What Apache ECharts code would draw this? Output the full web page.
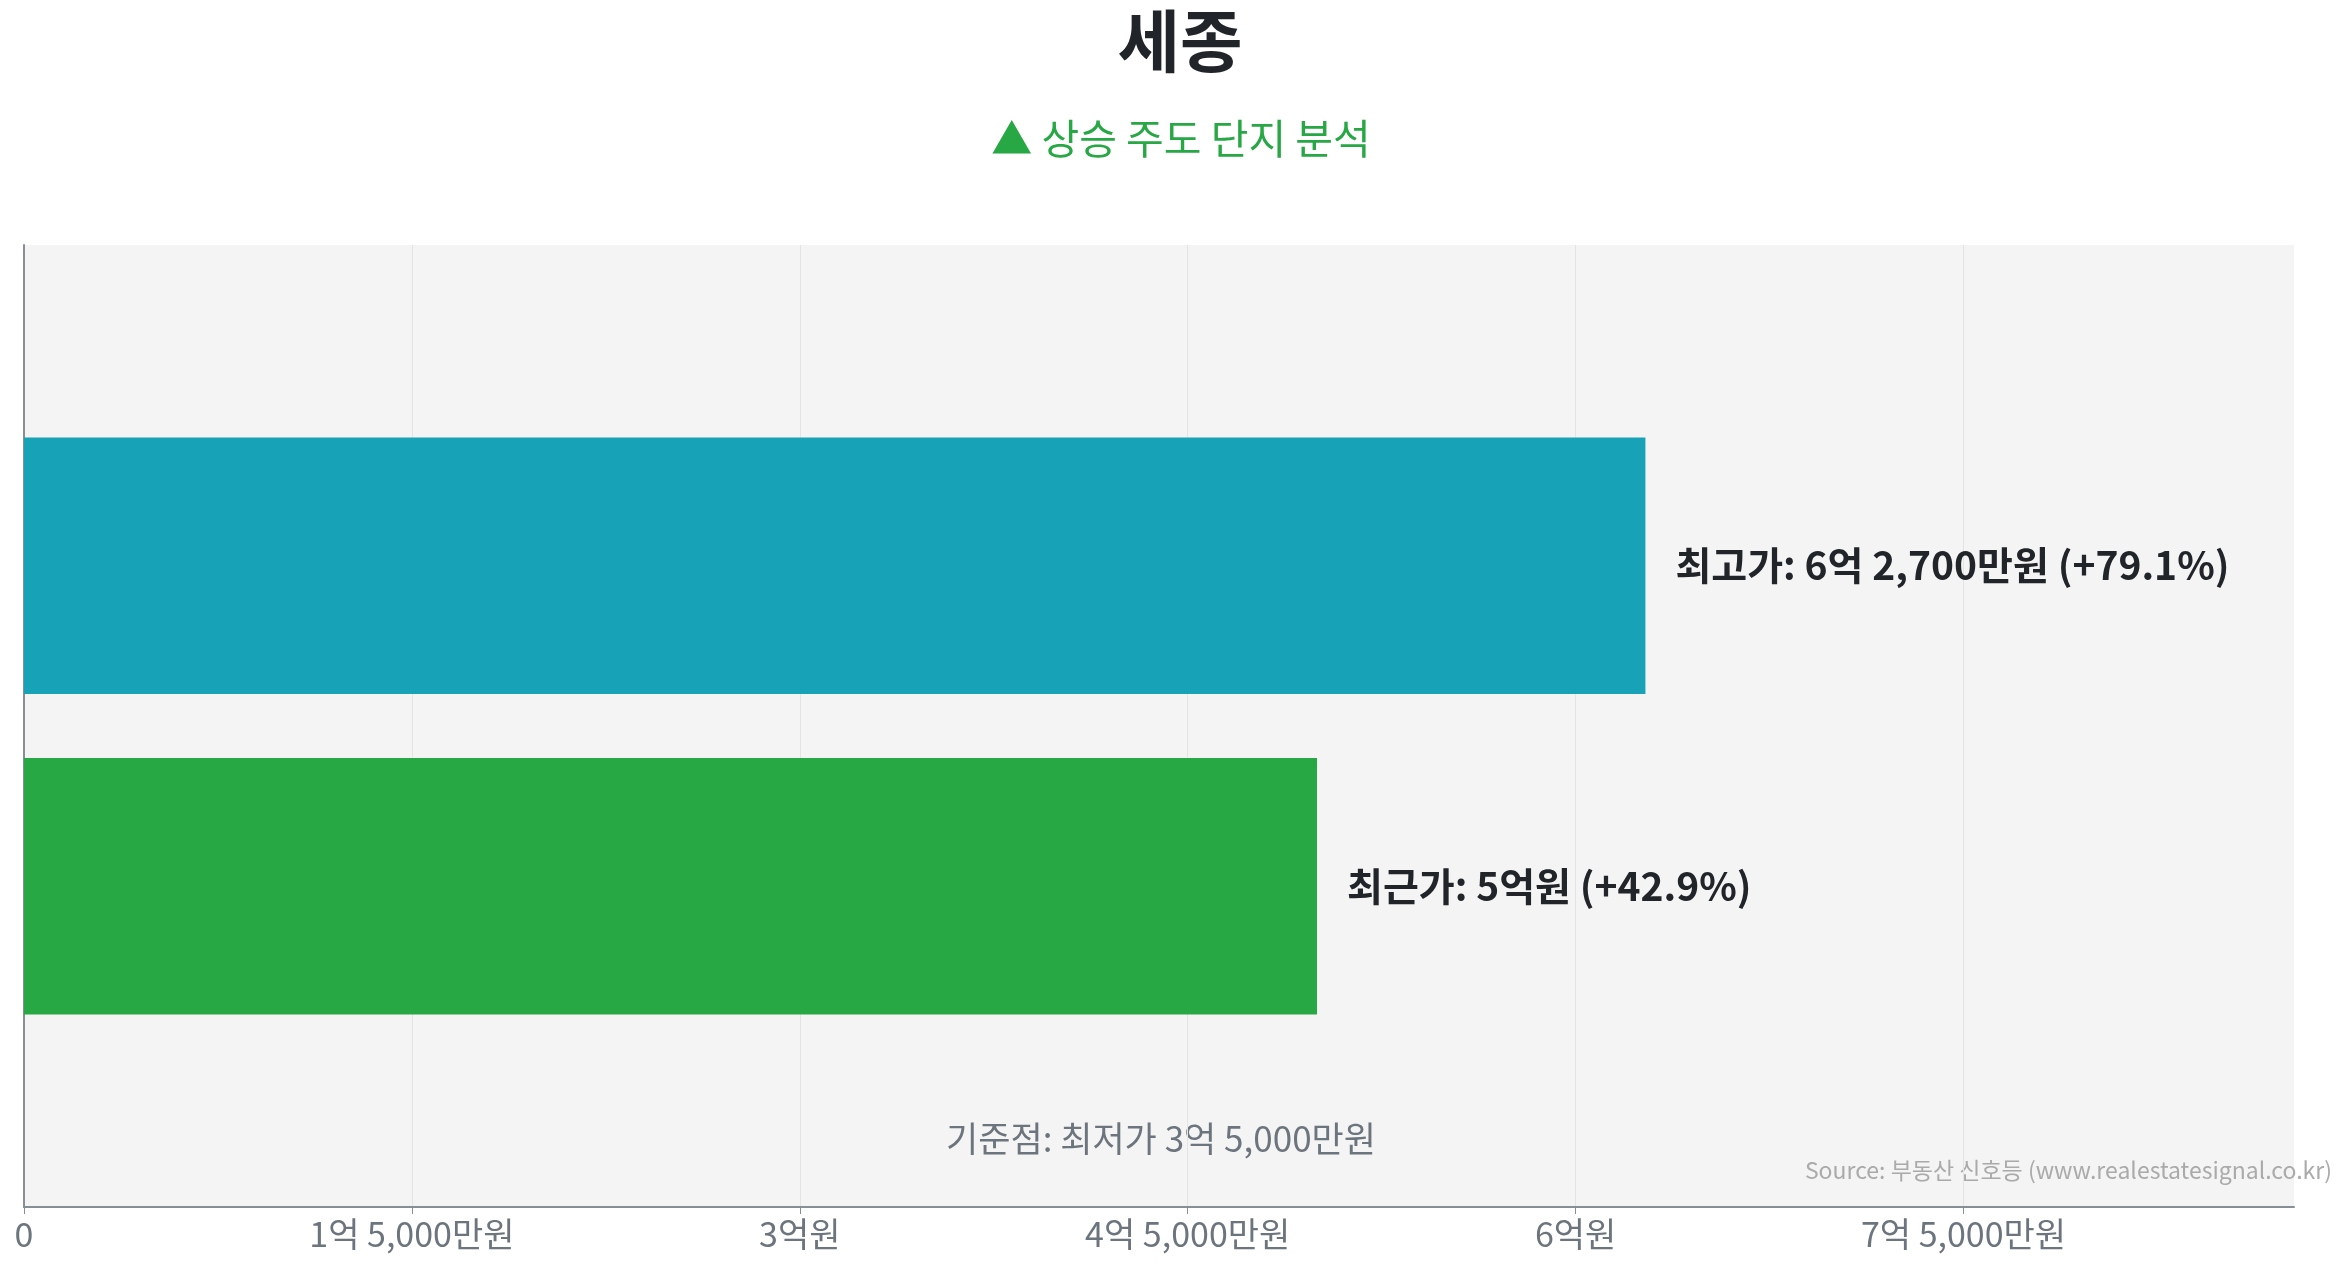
<!DOCTYPE html>
<html>
<head>
<meta charset="utf-8">
<script src="https://cdn.jsdelivr.net/npm/echarts@6/dist/echarts.min.js"></script>
<style>
html,body{margin:0;padding:0;background:#fff;}
#chart{width:2345px;height:1268px;}
</style>
</head>
<body>
<div id="chart"></div>
<script>
// ---- data ----
const categories = ['세종'];
const seriesNames = ['최고가', '최근가'];
const highestPrice = [627000000];
const recentPrice = [500000000];
const baselinePrice = 350000000;
const axisMax = 877800000;
const axisInterval = 150000000;
const tickValues = [0, 150000000, 300000000, 450000000, 600000000, 750000000];
const titleText = '세종';
const subtitleText = '▲ 상승 주도 단지 분석';
const sourceText = 'Source: 부동산 신호등 (www.realestatesignal.co.kr)';

const FONT = '"Noto Sans CJK KR", "Noto Sans", sans-serif';

function fmtWon(v) {
  if (v === 0) return '0';
  const eok = Math.floor(v / 1e8);
  const man = Math.round((v % 1e8) / 1e4);
  if (man === 0) return eok + '억원';
  if (eok === 0) return man.toLocaleString('en-US') + '만원';
  return eok + '억 ' + man.toLocaleString('en-US') + '만원';
}
function pct(v) {
  return ((v / baselinePrice - 1) * 100).toFixed(1);
}

const chart = echarts.init(document.getElementById('chart'));
const labelCfg = {
  show: true,
  position: 'right',
  distance: 30,
  fontFamily: FONT,
  fontSize: 39,
  fontWeight: 'bold',
  color: '#212529',
  formatter: p => p.seriesName + ': ' + fmtWon(p.value) + ' (+' + pct(p.value) + '%)'
};

chart.setOption({
  animation: false,
  backgroundColor: '#ffffff',
  textStyle: { fontFamily: FONT },
  grid: {
    left: 24, right: 51, top: 245, bottom: 61,
    show: true, backgroundColor: '#f4f4f4', borderWidth: 0
  },
  xAxis: {
    type: 'value',
    min: 0,
    max: axisMax,
    interval: axisInterval,
    axisLine: { show: true, lineStyle: { color: '#868e96', width: 2 } },
    axisTick: { show: true, length: 7, lineStyle: { color: '#868e96', width: 1 }, customValues: tickValues },
    splitLine: { show: true, lineStyle: { color: '#e4e4e4', width: 1 } },
    axisLabel: {
      fontFamily: FONT, fontSize: 34, color: '#6c757d', margin: 10,
      customValues: tickValues,
      formatter: v => fmtWon(v)
    }
  },
  yAxis: {
    type: 'category',
    data: categories,
    axisLine: { show: true, lineStyle: { color: '#868e96', width: 2 } },
    axisTick: { show: false },
    axisLabel: { show: false },
    splitLine: { show: false }
  },
  series: [
    {
      name: seriesNames[0],
      type: 'bar',
      data: highestPrice,
      itemStyle: { color: '#17a2b8' },
      barGap: '25%',
      barCategoryGap: '40%',
      label: labelCfg
    },
    {
      name: seriesNames[1],
      type: 'bar',
      data: recentPrice,
      itemStyle: { color: '#28a745' },
      barGap: '25%',
      barCategoryGap: '40%',
      label: labelCfg
    }
  ],
  graphic: [
    {
      type: 'text', x: 1180, y: 41,
      style: { text: titleText, fontFamily: FONT, fontSize: 68, fontWeight: 'bold', fill: '#212529', align: 'center', verticalAlign: 'middle' }
    },
    {
      type: 'text', x: 1181, y: 138,
      style: { text: subtitleText, fontFamily: FONT, fontSize: 41, fill: '#28a745', align: 'center', verticalAlign: 'middle' }
    },
    {
      type: 'text', x: 1161, y: 1139,
      style: { text: '기준점: 최저가 ' + fmtWon(baselinePrice), fontFamily: FONT, fontSize: 35, fill: '#6c757d', align: 'center', verticalAlign: 'middle' }
    },
    {
      type: 'text', x: 2332, y: 1170,
      style: { text: sourceText, fontFamily: FONT, fontSize: 23, fill: '#aaaaaa', align: 'right', verticalAlign: 'middle' }
    }
  ]
});
</script>
</body>
</html>
